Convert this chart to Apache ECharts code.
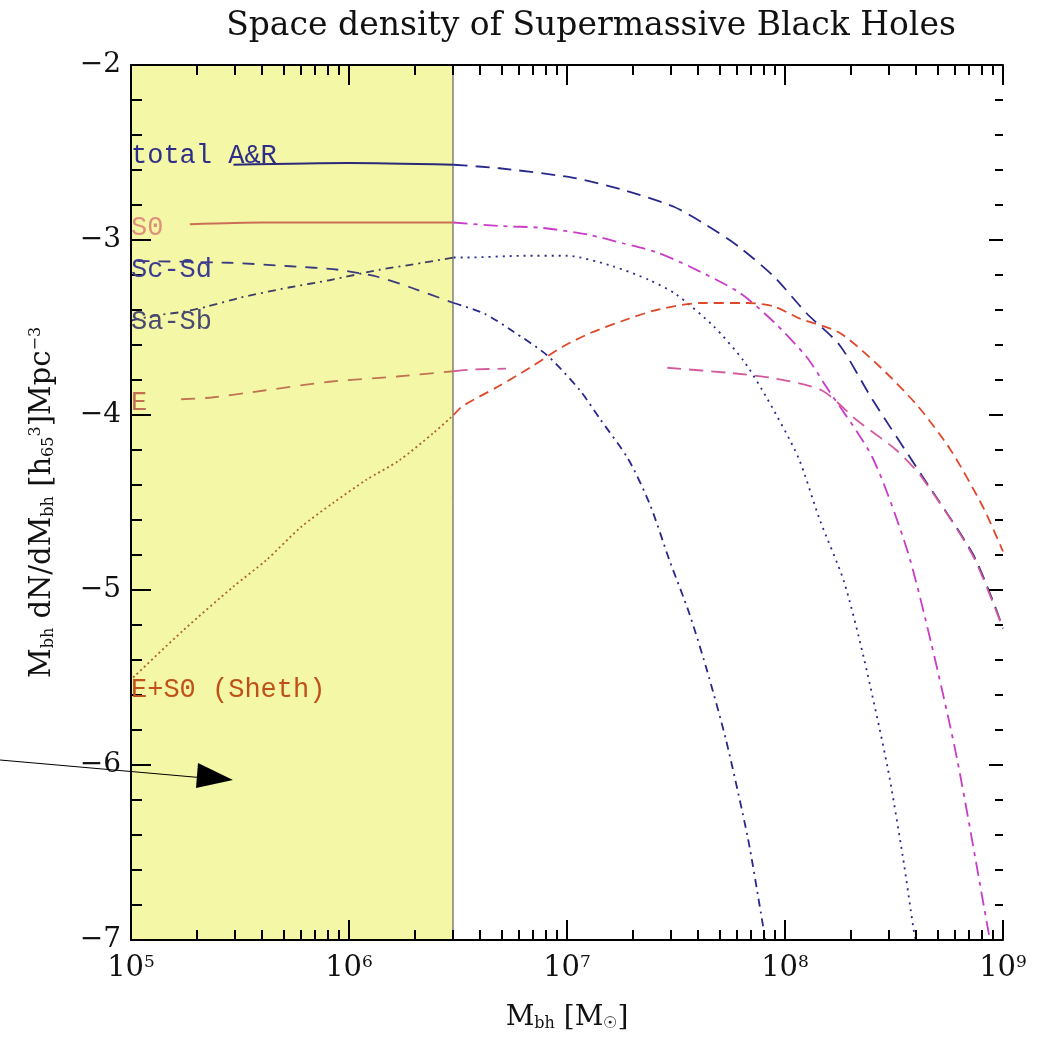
<!DOCTYPE html>
<html>
<head>
<meta charset="utf-8">
<title>Space density of Supermassive Black Holes</title>
<script src="https://cdn.jsdelivr.net/npm/echarts@6/dist/echarts.min.js"></script>
<style>
  html, body { margin: 0; padding: 0; background: #fff; }
  #chart { width: 1046px; height: 1041px; }
</style>
</head>
<body>
<div id="chart"></div>
<script>
// x = log10(M_bh / M_sun), y = log10 of the space density
var totalX = [5.47, 6.0, 6.48, 6.69, 7.03, 7.26, 7.49, 7.64, 7.79, 7.95, 8.10, 8.25, 8.40, 8.63, 8.86, 8.95, 9.0];
var totalY = [-2.57, -2.56, -2.57, -2.59, -2.645, -2.715, -2.81, -2.915, -3.04, -3.21, -3.42, -3.60, -3.91, -4.35, -4.79, -5.05, -5.22];

var s0X = [5.27, 5.6, 6.48, 6.69, 6.88, 7.1, 7.26, 7.41, 7.56, 7.79, 7.95, 8.1, 8.19, 8.4, 8.56, 8.67, 8.79, 8.93, 8.94];
var s0Y = [-2.91, -2.9, -2.9, -2.92, -2.93, -2.97, -3.02, -3.07, -3.15, -3.3, -3.47, -3.67, -3.84, -4.24, -4.77, -5.3, -5.97, -6.93, -7.0];

var scX = [5.03, 5.45, 5.73, 5.95, 6.13, 6.28, 6.48, 6.62, 6.75, 6.91, 7.06, 7.15, 7.28, 7.38, 7.47, 7.56, 7.64, 7.73, 7.83, 7.89, 7.91];
var scY = [-3.12, -3.13, -3.15, -3.17, -3.21, -3.27, -3.36, -3.42, -3.52, -3.66, -3.86, -4.02, -4.25, -4.51, -4.83, -5.13, -5.45, -5.86, -6.42, -6.85, -7.0];

var saX = [5.0, 5.12, 5.24, 5.35, 5.5, 5.73, 5.91, 6.14, 6.34, 6.48, 6.54, 6.8, 7.0, 7.21, 7.38, 7.5, 7.67, 7.81, 7.92, 8.06, 8.16, 8.27, 8.36, 8.47, 8.54, 8.59, 8.6];
var saY = [-3.46, -3.43, -3.41, -3.38, -3.33, -3.27, -3.23, -3.17, -3.13, -3.1, -3.1, -3.09, -3.09, -3.15, -3.23, -3.31, -3.49, -3.69, -3.91, -4.24, -4.6, -4.95, -5.38, -6.01, -6.52, -6.94, -7.0];

// null = gap in the plotted curve
var eX = [5.23, 5.37, 5.61, 5.91, 6.22, 6.48, 6.57, 6.72, 7.1, 7.46, 7.75, 7.95, 8.17, 8.33, 8.51, 8.63, 8.86, 9.0];
var eY = [-3.91, -3.9, -3.86, -3.81, -3.78, -3.75, -3.74, -3.735, null, -3.73, -3.76, -3.79, -3.86, -4.03, -4.2, -4.36, -4.8, -5.22];

var shethX = [5.01, 5.24, 5.47, 5.62, 5.78, 5.93, 6.08, 6.23, 6.39, 6.48, 6.52, 6.68, 6.83, 6.98, 7.11, 7.26, 7.41, 7.61, 7.83, 7.95, 8.07, 8.25, 8.44, 8.61, 8.76, 8.91, 9.0];
var shethY = [-5.5, -5.23, -4.98, -4.83, -4.64, -4.5, -4.37, -4.26, -4.1, -4.0, -3.95, -3.84, -3.73, -3.61, -3.53, -3.46, -3.4, -3.36, -3.36, -3.38, -3.45, -3.53, -3.73, -3.95, -4.2, -4.53, -4.78];

var curveNames = ['total A&R', 'S0', 'Sc-Sd', 'Sa-Sb', 'E', 'E+S0 (Sheth)'];
var labelY = [-2.52, -2.93, -3.17, -3.47, -3.93, -5.57];

var xTicks = [5, 6, 7, 8, 9];
var yTicks = [-2, -3, -4, -5, -6, -7];
var shadeMass = 3e6;   // upper end of the shaded mass range

var cut = 6.48;
var shadeEnd = Math.log10(shadeMass);

var navy = '#28288c';
var curves = [
  { x: totalX, y: totalY, inColor: '#2a2a78', outColor: navy, inType: 'solid', outType: [14, 8], text: '#2e2e88' },
  { x: s0X, y: s0Y, inColor: '#cc6e56', outColor: '#c83cc8', inType: 'solid', outType: [14, 6, 4, 6], text: '#e0907a' },
  { x: scX, y: scY, inColor: '#3a3a82', outColor: navy, inType: [12, 9], outType: [8, 5, 2, 5], text: '#3c3c90' },
  { x: saX, y: saY, inColor: '#3e3e66', outColor: navy, inType: [8, 5, 2, 5], outType: [2, 5], text: '#4a4a70' },
  { x: eX, y: eY, inColor: '#c07452', outColor: '#d45a9c', inType: [14, 10], outType: [14, 8], text: '#c07050' },
  { x: shethX, y: shethY, inColor: '#a86432', outColor: '#e0482a', inType: [2, 3], outType: [10, 6], text: '#c0501a' }
];

function pts(xs, ys, inside) {
  var out = [];
  for (var i = 0; i < xs.length; i++) {
    var ok = inside ? xs[i] <= cut + 1e-9 : xs[i] >= cut - 1e-9;
    if (ok) out.push([xs[i], ys[i] == null ? '-' : ys[i]]);
  }
  return out;
}

var minorX = [];
for (var n = 5; n < 9; n++) {
  for (var k = 2; k <= 9; k++) minorX.push(n + Math.log10(k));
}

var series = [{
  type: 'line', data: [], z: 1,
  markArea: {
    silent: true,
    itemStyle: { color: '#f4f8a6', borderColor: '#444', borderWidth: 1 },
    data: [[{ xAxis: 5, yAxis: -7 }, { xAxis: shadeEnd, yAxis: -2 }]]
  }
}];
curves.forEach(function (c, i) {
  series.push({
    name: curveNames[i] + ' in', type: 'line', z: 3, symbol: 'none',
    smooth: 0.25, silent: true,
    data: pts(c.x, c.y, true),
    lineStyle: { color: c.inColor, width: 1.8, type: c.inType }
  });
  series.push({
    name: curveNames[i], type: 'line', z: 3, symbol: 'none',
    smooth: 0.25, silent: true,
    data: pts(c.x, c.y, false),
    lineStyle: { color: c.outColor, width: 1.8, type: c.outType }
  });
});

var serif = 'DejaVu Serif';
var chart = echarts.init(document.getElementById('chart'));
var option = {
  animation: false,
  backgroundColor: '#fff',
  title: {
    text: 'Space density of Supermassive Black Holes',
    left: 586, top: 5, textAlign: 'center',
    textStyle: { fontFamily: serif, fontWeight: 'normal', fontSize: 33, color: '#111' }
  },
  grid: { left: 131, right: 43, top: 65, bottom: 101 },
  xAxis: [{
    type: 'value', min: 5, max: 9, interval: 1, position: 'bottom', z: 10,
    name: '{t|M}{sub|bh}{t| [M}{sub|☉}{t|]}',
    nameLocation: 'middle', nameGap: 64,
    nameTextStyle: {
      rich: {
        t: { fontFamily: serif, fontSize: 28, color: '#111' },
        sub: { fontFamily: serif, fontSize: 16, color: '#111', verticalAlign: 'bottom' }
      }
    },
    axisLine: { lineStyle: { color: '#000', width: 2 } },
    axisTick: { inside: true, length: 20, lineStyle: { color: '#000', width: 2 } },
    splitLine: { show: false },
    axisLabel: {
      margin: 14,
      formatter: function (v) { return '{b|10}{s|' + v + '}'; },
      rich: {
        b: { fontFamily: serif, fontSize: 29, color: '#111' },
        s: { fontFamily: serif, fontSize: 17, color: '#111', verticalAlign: 'top' }
      }
    }
  }, {
    type: 'value', min: 5, max: 9, position: 'bottom', z: 10,
    axisLine: { show: false }, splitLine: { show: false }, axisLabel: { show: false },
    axisTick: { inside: true, length: 10, customValues: minorX, lineStyle: { color: '#000', width: 2 } }
  }, {
    type: 'value', min: 5, max: 9, interval: 1, position: 'top', z: 10,
    axisLine: { lineStyle: { color: '#000', width: 2 } }, splitLine: { show: false }, axisLabel: { show: false },
    axisTick: { inside: true, length: 20, lineStyle: { color: '#000', width: 2 } }
  }, {
    type: 'value', min: 5, max: 9, position: 'top', z: 10,
    axisLine: { show: false }, splitLine: { show: false }, axisLabel: { show: false },
    axisTick: { inside: true, length: 10, customValues: minorX, lineStyle: { color: '#000', width: 2 } }
  }],
  yAxis: [{
    type: 'value', min: -7, max: -2, interval: 1, position: 'left', z: 10,
    name: '{t|M}{sub|bh}{t| dN/dM}{sub|bh}{t| [h}{sub|65}{sup|3}{t|]Mpc}{sup|−3}',
    nameLocation: 'middle', nameGap: 74, nameRotate: 90,
    nameTextStyle: {
      rich: {
        t: { fontFamily: serif, fontSize: 29, color: '#111' },
        sub: { fontFamily: serif, fontSize: 16, color: '#111', verticalAlign: 'bottom' },
        sup: { fontFamily: serif, fontSize: 16, color: '#111', verticalAlign: 'top' }
      }
    },
    axisLine: { lineStyle: { color: '#000', width: 2 } },
    axisTick: { inside: true, length: 20, lineStyle: { color: '#000', width: 2 } },
    minorTick: { show: true, splitNumber: 5, length: 11, lineStyle: { color: '#000', width: 2 } },
    splitLine: { show: false },
    axisLabel: {
      margin: 10,
      fontFamily: serif, fontSize: 28, color: '#111',
      customValues: yTicks,
      formatter: function (v) { return String(v).replace('-', '−'); }
    }
  }, {
    type: 'value', min: -7, max: -2, interval: 1, position: 'right', z: 10,
    axisLine: { show: false, lineStyle: { opacity: 0 } },
    splitLine: { show: false }, axisLabel: { show: false },
    axisTick: { inside: true, length: 14, lineStyle: { color: '#000', width: 2 } },
    minorTick: { show: true, splitNumber: 5, length: 8, lineStyle: { color: '#000', width: 2 } }
  }],
  series: series
};
chart.setOption(option);

// curve names written at the left edge of the plot, plus the arrow on the left
var graphics = [];
curves.forEach(function (c, i) {
  var p = chart.convertToPixel({ gridIndex: 0 }, [xTicks[0], labelY[i]]);
  graphics.push({
    type: 'text', z: 20, x: p[0], y: p[1],
    style: {
      text: curveNames[i], fill: c.text,
      font: '27px "Liberation Mono", monospace',
      textAlign: 'left', textVerticalAlign: 'middle'
    }
  });
});
graphics.push({
  type: 'polyline', z: 20,
  shape: { points: [[0, 760], [205, 778]] },
  style: { stroke: '#000', lineWidth: 1.2, fill: null }
});
graphics.push({
  type: 'polygon', z: 20,
  shape: { points: [[198, 763], [233, 780], [196, 788]] },
  style: { fill: '#000' }
});
chart.setOption({ graphic: graphics });
</script>
</body>
</html>
